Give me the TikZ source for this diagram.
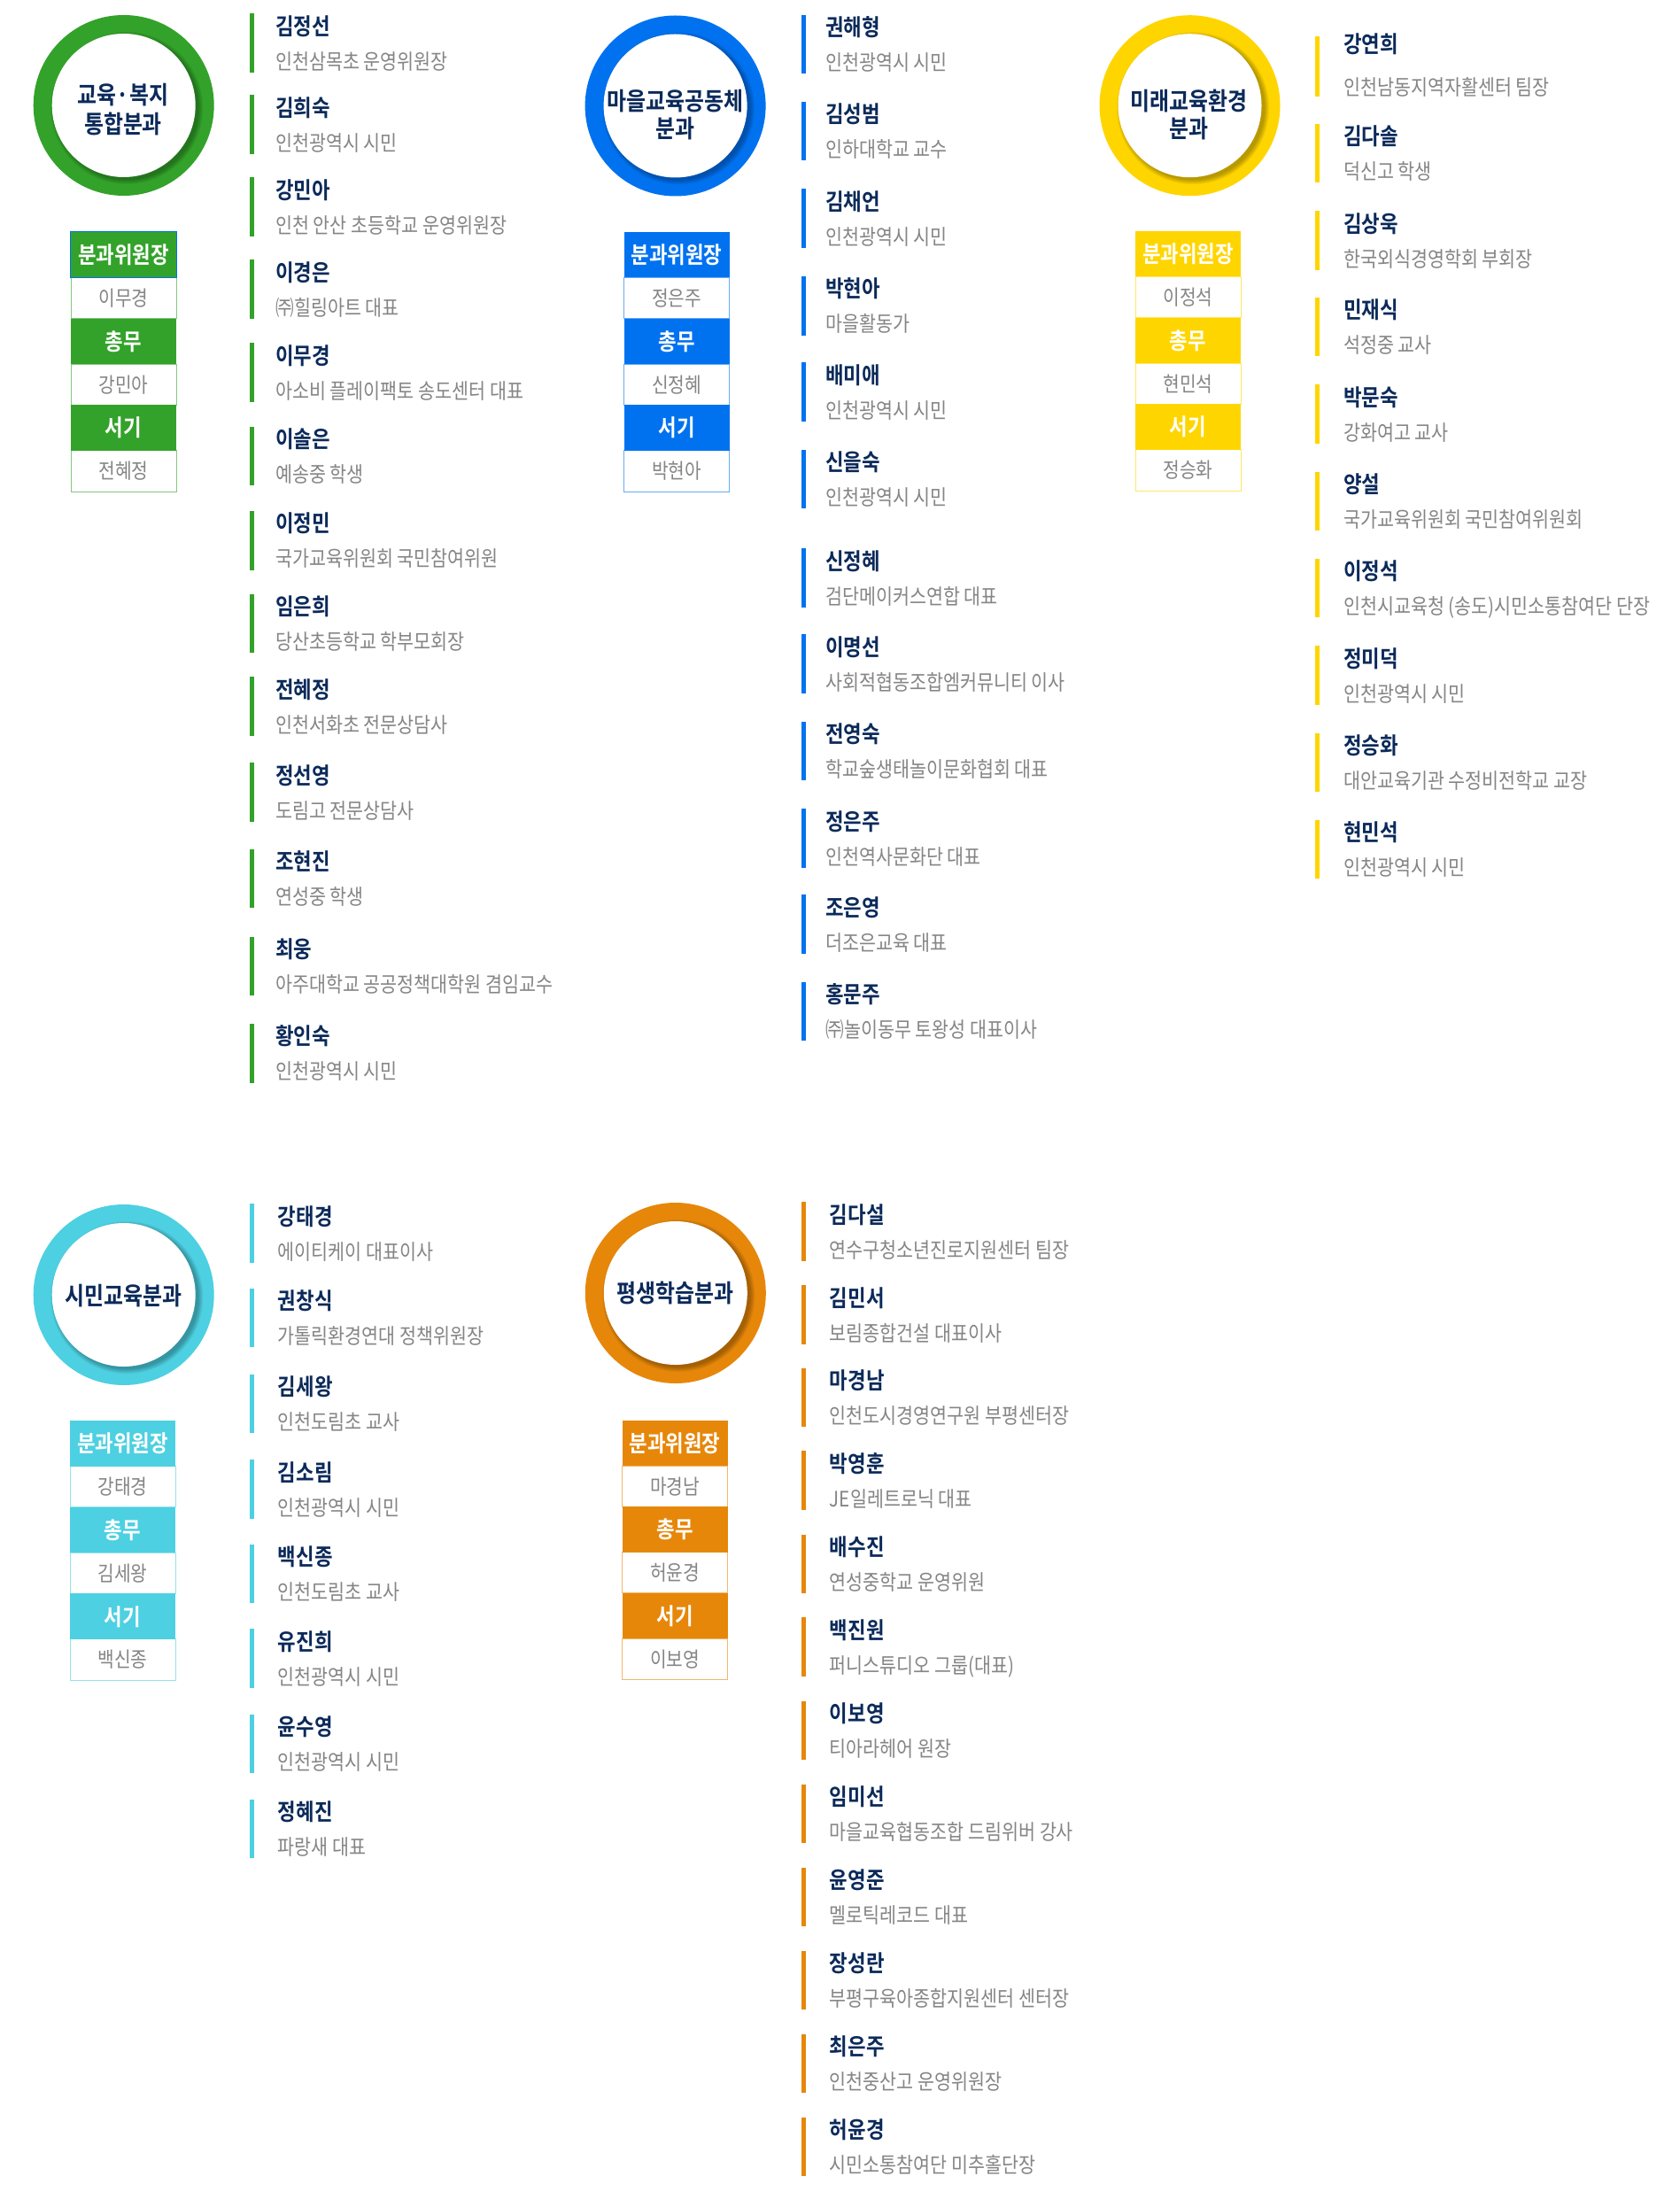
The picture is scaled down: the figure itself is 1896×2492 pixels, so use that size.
\documentclass[tikz,border=0pt]{standalone}
\usepackage{fontspec}
\setmainfont{Noto Sans CJK KR}[FakeStretch=0.86, BoldFont={* Bold}]
\definecolor{cgreen}{HTML}{33A22A}
\definecolor{cblue}{HTML}{0072F0}
\definecolor{cyellow}{HTML}{FFD500}
\definecolor{ccyan}{HTML}{4DD0E1}
\definecolor{corange}{HTML}{E6870A}
\definecolor{cnavy}{HTML}{0B2A5A}
\definecolor{subgray}{HTML}{858585}
\tikzset{
  nm/.style={anchor=base west, inner sep=0, text=cnavy, font=\fontsize{13}{15}\selectfont\bfseries},
  sb/.style={anchor=base west, inner sep=0, text=subgray, font=\fontsize{12}{14}\selectfont},
  ring/.style={circle, minimum size=102pt, inner sep=0, draw=none},
  disc/.style={circle, minimum size=81pt, inner sep=0, fill=white, draw=none},
  ctext/.style={anchor=base, inner sep=0, text=cnavy, font=\fontsize{13.9}{16}\selectfont\bfseries},
  wcell/.style={rectangle, minimum width=59.5pt, minimum height=23.1pt, inner sep=0, fill=white, line width=0.5pt},
  hcell/.style={rectangle, minimum width=59.5pt, minimum height=25.75pt, inner sep=0, draw=none},
  htxt/.style={anchor=base, inner sep=0, text=white, font=\fontsize{13}{14}\selectfont\bfseries},
  wtxt/.style={anchor=base, inner sep=0, text=subgray, font=\fontsize{11.8}{14}\selectfont},
}
% entry: id, color, bar left x, text x, top y, name, subtitle
\newcommand{\mementry}[7]{%
  \fill[#2] (#3,#5) rectangle ++(4.6,66.7);
  \node[nm] (#1n) at (#4,#5+24.1) {#6};
  \node[sb] (#1s) at (#4,#5+63.1) {#7};
}
% circle: id, color, x, y
\newcommand{\divcircle}[4]{%
  \node[ring, fill=#2] (#1) at (#3,#4) {};
  \foreach \k in {0,...,5} {\fill[black, opacity=0.05] (#3+3.5,#4+3) circle[radius={40.5pt+\k*0.5pt}];}
  \node[disc] (#1w) at (#3,#4) {};
}
% table: id, color, x, y, chair, 총무, 서기
\newcommand{\roletable}[7]{%
  \begin{scope}[shift={(#3,#4)}]
    \node[wcell, draw=#2!60] (#1w1) at (59.5,74.6) {};
    \node[wcell, draw=#2!60] (#1w2) at (59.5,172.3) {};
    \node[wcell, draw=#2!60] (#1w3) at (59.5,270.0) {};
    \node[hcell, fill=#2] (#1h1) at (59.5,25.75) {};
    \node[hcell, fill=#2] (#1h2) at (59.5,123.45) {};
    \node[hcell, fill=#2] (#1h3) at (59.5,221.15) {};
    \node[htxt] (#1h1t) at (59.5,35.6) {분과위원장};
    \node[htxt] (#1h2t) at (59.5,133.3) {총무};
    \node[htxt] (#1h3t) at (59.5,231.0) {서기};
    \node[wtxt] (#1w1t) at (59.5,83.5) {#5};
    \node[wtxt] (#1w2t) at (59.5,181.2) {#6};
    \node[wtxt] (#1w3t) at (59.5,278.9) {#7};
  \end{scope}
}
\begin{document}
\begin{tikzpicture}[x=0.5pt,y=-0.5pt]
\useasboundingbox (0,0) rectangle (1896,2492);
\fill[white] (0,0) rectangle (1896,2492);

% ===== circles =====
\divcircle{gc}{cgreen}{139.7}{119}
\node[ctext] (gca) at (139,118) {교육·복지};
\node[ctext] (gcb) at (139,150.5) {통합분과};

\divcircle{bc}{cblue}{762.6}{119.5}
\node[ctext] (bca) at (762.6,124.4) {마을교육공동체};
\node[ctext] (bcb) at (762.6,156) {분과};

\divcircle{yc}{cyellow}{1343.5}{119.2}
\node[ctext] (yca) at (1342.8,124.4) {미래교육환경};
\node[ctext] (ycb) at (1342.8,156) {분과};

\divcircle{cc}{ccyan}{139.7}{1462}
\node[ctext] (cca) at (139.5,1473.1) {시민교육분과};

\divcircle{oc}{corange}{762.8}{1460}
\node[ctext] (oca) at (762.8,1470.2) {평생학습분과};

% ===== tables =====
\roletable{gt}{cgreen}{80}{262}{이무경}{강민아}{전혜정}
\draw[cblue, line width=0.5pt] (gth1.south west) rectangle (gth1.north east);
\roletable{bt}{cblue}{704.5}{262}{정은주}{신정혜}{박현아}
\roletable{yt}{cyellow}{1282}{261}{이정석}{현민석}{정승화}
\roletable{ct}{ccyan}{79}{1604}{강태경}{김세왕}{백신종}
\roletable{ot}{corange}{702.5}{1603.5}{마경남}{허윤경}{이보영}

% ===== green members =====
\mementry{g1}{cgreen}{282.3}{311}{15}{김정선}{인천삼목초 운영위원장}
\mementry{g2}{cgreen}{282.3}{311}{107.3}{김희숙}{인천광역시 시민}
\mementry{g3}{cgreen}{282.3}{311}{200}{강민아}{인천 안산 초등학교 운영위원장}
\mementry{g4}{cgreen}{282.3}{311}{293.3}{이경은}{㈜힐링아트 대표}
\mementry{g5}{cgreen}{282.3}{311}{387.3}{이무경}{아소비 플레이팩토 송도센터 대표}
\mementry{g6}{cgreen}{282.3}{311}{481.7}{이솔은}{예송중 학생}
\mementry{g7}{cgreen}{282.3}{311}{576.8}{이정민}{국가교육위원회 국민참여위원}
\mementry{g8}{cgreen}{282.3}{311}{670.5}{임은희}{당산초등학교 학부모회장}
\mementry{g9}{cgreen}{282.3}{311}{764}{전혜정}{인천서화초 전문상담사}
\mementry{g10}{cgreen}{282.3}{311}{861}{정선영}{도림고 전문상담사}
\mementry{g11}{cgreen}{282.3}{311}{958.5}{조현진}{연성중 학생}
\mementry{g12}{cgreen}{282.3}{311}{1057.6}{최웅}{아주대학교 공공정책대학원 겸임교수}
\mementry{g13}{cgreen}{282.3}{311}{1155.8}{황인숙}{인천광역시 시민}

% ===== blue members =====
\mementry{b1}{cblue}{905}{932}{16.8}{권해형}{인천광역시 시민}
\mementry{b2}{cblue}{905}{932}{114.8}{김성범}{인하대학교 교수}
\mementry{b3}{cblue}{905}{932}{213.5}{김채언}{인천광역시 시민}
\mementry{b4}{cblue}{905}{932}{311.9}{박현아}{마을활동가}
\mementry{b5}{cblue}{905}{932}{409.5}{배미애}{인천광역시 시민}
\mementry{b6}{cblue}{905}{932}{507.8}{신을숙}{인천광역시 시민}
\mementry{b7}{cblue}{905}{932}{619}{신정혜}{검단메이커스연합 대표}
\mementry{b8}{cblue}{905}{932}{716}{이명선}{사회적협동조합엠커뮤니티 이사}
\mementry{b9}{cblue}{905}{932}{814.5}{전영숙}{학교숲생태놀이문화협회 대표}
\mementry{b10}{cblue}{905}{932}{913}{정은주}{인천역사문화단 대표}
\mementry{b11}{cblue}{905}{932}{1010}{조은영}{더조은교육 대표}
\mementry{b12}{cblue}{905}{932}{1108.5}{홍문주}{㈜놀이동무 토왕성 대표이사}

% ===== yellow members =====
\fill[cyellow] (1485,41.3) rectangle ++(4.6,67.7);
\node[nm] (y1n) at (1517,59.3) {강연희};
\node[sb] (y1s) at (1517,108) {인천남동지역자활센터 팀장};
\mementry{y2}{cyellow}{1485}{1517}{139.7}{김다솔}{덕신고 학생}
\mementry{y3}{cyellow}{1485}{1517}{238}{김상욱}{한국외식경영학회 부회장}
\mementry{y4}{cyellow}{1485}{1517}{335.6}{민재식}{석정중 교사}
\mementry{y5}{cyellow}{1485}{1517}{434.4}{박문숙}{강화여고 교사}
\mementry{y6}{cyellow}{1485}{1517}{532.7}{양설}{국가교육위원회 국민참여위원회}
\mementry{y7}{cyellow}{1485}{1517}{630.7}{이정석}{인천시교육청 (송도)시민소통참여단 단장}
\mementry{y8}{cyellow}{1485}{1517}{729.3}{정미덕}{인천광역시 시민}
\mementry{y9}{cyellow}{1485}{1517}{827.7}{정승화}{대안교육기관 수정비전학교 교장}
\mementry{y10}{cyellow}{1485}{1517}{925.7}{현민석}{인천광역시 시민}

% ===== cyan members =====
\mementry{c1}{ccyan}{282.3}{313.5}{1359}{강태경}{에이티케이 대표이사}
\mementry{c2}{ccyan}{282.3}{313.5}{1454.7}{권창식}{가톨릭환경연대 정책위원장}
\mementry{c3}{ccyan}{282.3}{313.5}{1551.5}{김세왕}{인천도림초 교사}
\mementry{c4}{ccyan}{282.3}{313.5}{1648}{김소림}{인천광역시 시민}
\mementry{c5}{ccyan}{282.3}{313.5}{1743.7}{백신종}{인천도림초 교사}
\mementry{c6}{ccyan}{282.3}{313.5}{1839.3}{유진희}{인천광역시 시민}
\mementry{c7}{ccyan}{282.3}{313.5}{1935.7}{윤수영}{인천광역시 시민}
\mementry{c8}{ccyan}{282.3}{313.5}{2031.7}{정혜진}{파랑새 대표}

% ===== orange members =====
\mementry{o1}{corange}{905}{936.5}{1357}{김다설}{연수구청소년진로지원센터 팀장}
\mementry{o2}{corange}{905}{936.5}{1450.9}{김민서}{보림종합건설 대표이사}
\mementry{o3}{corange}{905}{936.5}{1544.6}{마경남}{인천도시경영연구원 부평센터장}
\mementry{o4}{corange}{905}{936.5}{1638.4}{박영훈}{JE일레트로닉 대표}
\mementry{o5}{corange}{905}{936.5}{1732.5}{배수진}{연성중학교 운영위원}
\mementry{o6}{corange}{905}{936.5}{1826.3}{백진원}{퍼니스튜디오 그룹(대표)}
\mementry{o7}{corange}{905}{936.5}{1920.5}{이보영}{티아라헤어 원장}
\mementry{o8}{corange}{905}{936.5}{2014.7}{임미선}{마을교육협동조합 드림위버 강사}
\mementry{o9}{corange}{905}{936.5}{2108.7}{윤영준}{멜로틱레코드 대표}
\mementry{o10}{corange}{905}{936.5}{2202.7}{장성란}{부평구육아종합지원센터 센터장}
\mementry{o11}{corange}{905}{936.5}{2296.7}{최은주}{인천중산고 운영위원장}
\mementry{o12}{corange}{905}{936.5}{2390.7}{허윤경}{시민소통참여단 미추홀단장}
\end{tikzpicture}
\end{document}
